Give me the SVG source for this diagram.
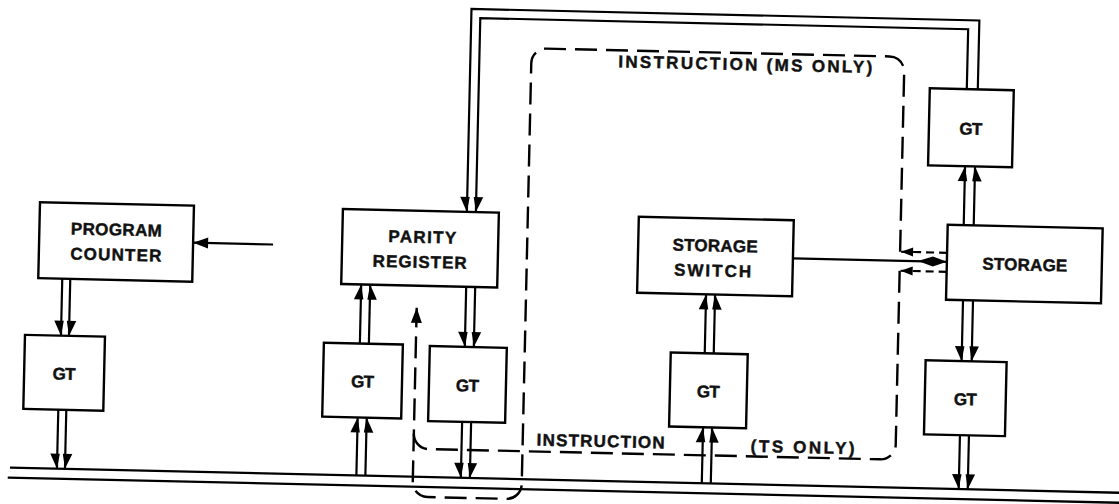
<svg xmlns="http://www.w3.org/2000/svg" width="1119" height="504" viewBox="0 0 1119 504">
<style>
.box{fill:#fff;stroke:#000;stroke-width:2.4}
.lbl{font-family:"Liberation Sans",Arial,sans-serif;font-weight:bold;font-size:17px;fill:#111;stroke:#111;stroke-width:0.45;text-anchor:middle}
.lbs{font-family:"Liberation Sans",Arial,sans-serif;font-weight:bold;font-size:17px;fill:#111;stroke:#111;stroke-width:0.45;text-anchor:start}
.ln{fill:none;stroke:#000;stroke-width:2.2}
.bus{fill:none;stroke:#000;stroke-width:2.3}
.dash{fill:none;stroke:#000;stroke-width:2.4;stroke-dasharray:22 9}
.sdash{fill:none;stroke:#000;stroke-width:2.2;stroke-dasharray:8 5}
</style>
<defs>
<marker id="hP" markerUnits="userSpaceOnUse" orient="auto" overflow="visible" markerWidth="20" markerHeight="20" refX="0" refY="0"><path d="M0,0 L-15,-2.5 L-15,7 Z" fill="#000"/></marker>
<marker id="hN" markerUnits="userSpaceOnUse" orient="auto" overflow="visible" markerWidth="20" markerHeight="20" refX="0" refY="0"><path d="M0,0 L-15,-7 L-15,2.5 Z" fill="#000"/></marker>
<marker id="hS" markerUnits="userSpaceOnUse" orient="auto" overflow="visible" markerWidth="20" markerHeight="20" refX="0" refY="0"><path d="M0,0 L-15,-5.5 L-15,5.5 Z" fill="#000"/></marker>
<marker id="hs" markerUnits="userSpaceOnUse" orient="auto" overflow="visible" markerWidth="20" markerHeight="20" refX="0" refY="0"><path d="M0,0 L-12,-4.5 L-12,4.5 Z" fill="#000"/></marker>
<marker id="dia" markerUnits="userSpaceOnUse" orient="auto" overflow="visible" markerWidth="40" markerHeight="20" refX="0" refY="0"><path d="M0,0 L-14,-5 L-29,0 L-14,5 Z" fill="#000"/></marker>
</defs>
<rect width="1119" height="504" fill="#fff"/>
<g transform="rotate(1.3 560 252)">
<g id="connectors">
<path class="bus" d="M15,480 H1140"/>
<path class="bus" d="M13,490 H1140"/>
<path class="ln" d="M273,251 H193" marker-end="url(#hS)"/>
<path class="ln" d="M63,290 V347" marker-end="url(#hP)"/>
<path class="ln" d="M71,290 V347" marker-end="url(#hN)"/>
<path class="ln" d="M62,421 V480" marker-end="url(#hP)"/>
<path class="ln" d="M70,421 V480" marker-end="url(#hN)"/>
<path class="ln" d="M361.5,480 V422" marker-end="url(#hN)"/>
<path class="ln" d="M370.5,480 V422" marker-end="url(#hP)"/>
<path class="ln" d="M362,348 V289" marker-end="url(#hN)"/>
<path class="ln" d="M371,348 V289" marker-end="url(#hP)"/>
<path class="ln" d="M467,289 V349" marker-end="url(#hP)"/>
<path class="ln" d="M476,289 V349" marker-end="url(#hN)"/>
<path class="ln" d="M466,424 V480" marker-end="url(#hP)"/>
<path class="ln" d="M475,424 V480" marker-end="url(#hN)"/>
<path class="ln" d="M707,480 V424" marker-end="url(#hN)"/>
<path class="ln" d="M716,480 V424" marker-end="url(#hP)"/>
<path class="ln" d="M707,350 V291" marker-end="url(#hN)"/>
<path class="ln" d="M716,350 V291" marker-end="url(#hP)"/>
<path class="ln" d="M963,216 V157" marker-end="url(#hN)"/>
<path class="ln" d="M973,216 V157" marker-end="url(#hP)"/>
<path class="ln" d="M974,80 V11 H466 V214" marker-end="url(#hP)"/>
<path class="ln" d="M963,80 V20 H475 V214" marker-end="url(#hN)"/>
<path class="ln" d="M964,291 V352" marker-end="url(#hP)"/>
<path class="ln" d="M974,291 V352" marker-end="url(#hN)"/>
<path class="ln" d="M964,426 V480" marker-end="url(#hP)"/>
<path class="ln" d="M973,426 V480" marker-end="url(#hN)"/>
<path class="ln" d="M793,253 H947" marker-end="url(#dia)"/>
<path class="sdash" d="M947,244 H901" marker-end="url(#hs)"/>
<path class="sdash" d="M947,263 H901" marker-end="url(#hs)"/>
<path class="dash" d="M900,244 V64 A15,15 0 0 0 885,49 H542 A15,15 0 0 0 527,64 V485 A15,15 0 0 1 512,500 H433 A15,15 0 0 1 418,485 V311" marker-end="url(#hS)"/>
<path class="dash" d="M900,263 V437 A15,15 0 0 1 885,452 H433 A15,15 0 0 1 418,437"/>
<text class="lbs" x="614" y="66" textLength="254" lengthAdjust="spacing">INSTRUCTION (MS ONLY)</text>
<text class="lbs" x="541" y="446" textLength="128" lengthAdjust="spacing">INSTRUCTION</text>
<text class="lbs" x="755" y="447.5" textLength="104" lengthAdjust="spacing">(TS ONLY)</text>
</g>
<g id="program-counter">
<rect class="box" x="39" y="214" width="154" height="76"/>
<text class="lbl" x="116" y="245.5" textLength="91" lengthAdjust="spacing">PROGRAM</text>
<text class="lbl" x="116" y="270.5" textLength="91" lengthAdjust="spacing">COUNTER</text>
</g>
<g id="gt-program-counter">
<rect class="box" x="27" y="347" width="80" height="74"/>
<text class="lbl" x="67" y="391" textLength="23" lengthAdjust="spacing">GT</text>
</g>
<g id="parity-register">
<rect class="box" x="342" y="214" width="156" height="75"/>
<text class="lbl" x="422" y="246" textLength="68" lengthAdjust="spacing">PARITY</text>
<text class="lbl" x="420" y="271" textLength="94" lengthAdjust="spacing">REGISTER</text>
</g>
<g id="gt-parity-in">
<rect class="box" x="326" y="348" width="79" height="74"/>
<text class="lbl" x="365.5" y="392" textLength="23" lengthAdjust="spacing">GT</text>
</g>
<g id="gt-parity-out">
<rect class="box" x="432" y="349" width="77" height="75"/>
<text class="lbl" x="470.5" y="393.5" textLength="23" lengthAdjust="spacing">GT</text>
</g>
<g id="storage-switch">
<rect class="box" x="638" y="215" width="155" height="76"/>
<text class="lbl" x="715" y="248" textLength="85" lengthAdjust="spacing">STORAGE</text>
<text class="lbl" x="713" y="273" textLength="77" lengthAdjust="spacing">SWITCH</text>
</g>
<g id="gt-storage-switch">
<rect class="box" x="673" y="350" width="77" height="74"/>
<text class="lbl" x="711.5" y="394" textLength="23" lengthAdjust="spacing">GT</text>
</g>
<g id="gt-storage-upper">
<rect class="box" x="926" y="80" width="84" height="77"/>
<text class="lbl" x="968" y="125.5" textLength="23" lengthAdjust="spacing">GT</text>
</g>
<g id="storage">
<rect class="box" x="947" y="216" width="155" height="75"/>
<text class="lbl" x="1025" y="260" textLength="85" lengthAdjust="spacing">STORAGE</text>
</g>
<g id="gt-storage-lower">
<rect class="box" x="928" y="352" width="81" height="74"/>
<text class="lbl" x="968.5" y="396" textLength="23" lengthAdjust="spacing">GT</text>
</g>
</g>
</svg>
